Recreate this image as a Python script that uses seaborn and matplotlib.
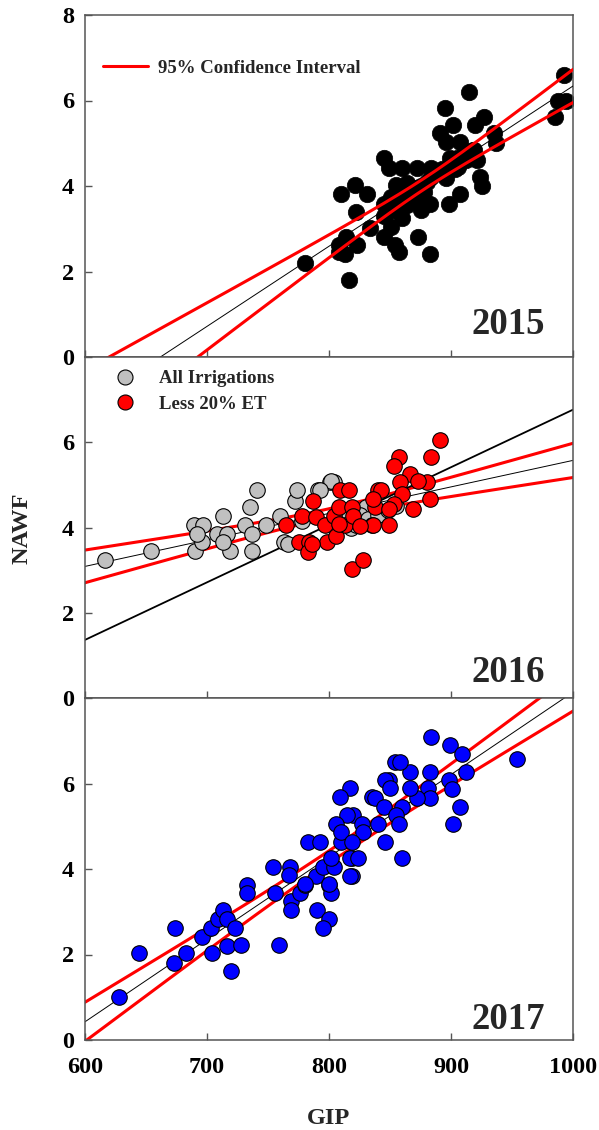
import numpy as np
import pandas as pd
import matplotlib
matplotlib.use("Agg")
import matplotlib.pyplot as plt
import seaborn as sns
from matplotlib.lines import Line2D

# ---------------- data ----------------
gip_2015 = [993, 988, 994, 985, 915, 895, 927, 920, 902, 935, 937, 891, 896, 907, 918,
            899, 909, 921, 845, 849, 860, 872, 884, 884, 896, 906, 924, 925, 821, 810,
            831, 822, 855, 864, 851, 861, 872, 883, 875, 845, 855, 860, 898, 907, 834,
            851, 845, 814, 808, 823, 813, 857, 854, 873, 883, 816, 780, 808,
            852, 858, 862, 866, 856, 864, 870, 875, 880, 888, 893, 900, 905, 910, 915,
            912, 903, 856, 848, 845, 860, 867, 878, 919]
nawf_2015 = [6.60, 6.00, 6.00, 5.62, 6.21, 5.82, 5.62, 5.43, 5.43, 5.23, 5.00, 5.23, 5.04, 5.04, 4.84,
             4.65, 4.69, 4.61, 4.65, 4.41, 4.41, 4.41, 4.41, 4.22, 4.18, 4.45, 4.22, 4.00, 4.02, 3.81,
             3.81, 3.40, 4.02, 4.06, 3.75, 3.79, 3.75, 3.59, 3.44, 3.59, 3.44, 3.24, 3.59, 3.81, 3.01,
             3.05, 2.81, 2.81, 2.62, 2.62, 2.42, 2.46, 2.62, 2.81, 2.42, 1.80, 2.21, 2.46,
             3.55, 3.70, 3.80, 3.90, 3.80, 3.55, 3.95, 4.00, 4.10, 4.30, 4.40, 4.55, 4.65, 4.70, 4.80,
             4.60, 4.40, 3.50, 3.40, 3.30, 3.90, 3.70, 3.85, 4.85]

gip_2016_all = [616, 654, 690, 689, 696, 697, 692, 708, 713, 716, 719, 713, 731, 735, 741,
                737, 737, 748, 760, 763, 772, 774, 791, 801, 804, 830, 802, 793, 766, 778,
                805, 812, 818, 825, 832, 840, 848, 855, 835, 822]
nawf_2016_all = [3.23, 3.44, 3.45, 4.05, 3.66, 4.05, 3.85, 3.85, 4.28, 3.85, 3.45, 3.66, 4.05, 4.48, 4.87,
                 3.85, 3.45, 4.05, 4.28, 3.66, 4.63, 4.87, 4.87, 5.06, 5.06, 4.48, 5.10, 4.87, 3.62, 4.16,
                 4.10, 4.20, 4.00, 4.30, 4.20, 4.30, 4.40, 4.50, 4.05, 4.05]

gip_2016_less = [765, 775, 778, 787, 789, 784, 783, 797, 798, 804, 806, 809, 816, 808, 819,
                 813, 820, 819, 828, 836, 838, 840, 891, 884, 857, 853, 866, 858, 880, 873,
                 883, 869, 860, 843, 853, 849, 836, 849, 825, 786, 808]
nawf_2016_less = [4.05, 3.66, 4.28, 4.63, 4.24, 3.66, 3.42, 4.05, 3.66, 4.28, 3.81, 4.87, 4.87, 4.48, 4.48,
                  4.05, 4.28, 3.03, 3.23, 4.05, 4.48, 4.87, 6.06, 5.65, 5.66, 5.45, 5.26, 5.06, 5.06, 5.10,
                  4.66, 4.44, 4.79, 4.87, 4.55, 4.44, 4.67, 4.05, 4.03, 3.62, 4.09]

gip_2017 = [628, 644, 674, 673, 683, 696, 704, 703, 709, 713, 716, 723, 716, 728, 720,
            733, 733, 754, 756, 759, 768, 767, 769, 769, 776, 780, 789, 790, 795, 800,
            800, 795, 802, 804, 802, 819, 819, 783, 793, 810,
            884, 899, 909, 954, 912, 898, 901, 907, 902, 883, 881, 883, 872, 866, 866,
            854, 858, 849, 846, 850, 817, 809, 835, 838, 845, 860, 855, 857, 820, 815,
            806, 810, 827, 840, 828, 846, 819, 860, 817, 824, 817, 780, 800]
nawf_2017 = [1.00, 2.03, 2.61, 1.81, 2.03, 2.42, 2.03, 2.61, 2.82, 3.04, 2.82, 2.61, 2.20, 2.22, 1.61,
             3.63, 3.43, 4.05, 3.43, 2.22, 4.05, 3.86, 3.24, 3.04, 3.43, 3.63, 3.84, 3.04, 4.05, 3.63,
             2.84, 2.61, 3.43, 4.05, 4.25, 3.84, 4.25, 4.64, 4.64, 4.64,
             7.08, 6.89, 6.69, 6.57, 6.28, 6.08, 5.86, 5.46, 5.05, 6.28, 5.89, 5.65, 5.65, 6.28, 5.89,
             6.51, 6.51, 6.08, 6.08, 5.89, 5.89, 5.68, 5.68, 5.65, 5.46, 5.46, 5.26, 5.05, 5.26, 5.26,
             5.05, 4.87, 5.05, 5.05, 4.86, 4.64, 4.64, 4.25, 4.25, 4.25, 3.84, 3.66, 3.66]

x_ticks = [600, 700, 800, 900, 1000]
y_ticks = [0, 2, 4, 6, 8]
years = ["2015", "2016", "2017"]

# ---------------- helpers ----------------
def fit_with_ci(x, y, grid, t=1.99):
    x = np.asarray(x, float)
    y = np.asarray(y, float)
    n = len(x)
    b, a = np.polyfit(x, y, 1)
    resid = y - (a + b * x)
    s = np.sqrt(np.sum(resid ** 2) / (n - 2))
    xm = x.mean()
    sxx = np.sum((x - xm) ** 2)
    yhat = a + b * grid
    se = s * np.sqrt(1.0 / n + (grid - xm) ** 2 / sxx)
    return yhat, yhat - t * se, yhat + t * se


sns.set_style("ticks")
plt.rcParams["font.family"] = ["Liberation Serif", "DejaVu Serif"]
plt.rcParams["font.weight"] = "bold"

fig = plt.figure(figsize=(5.99, 11.30), dpi=100)
W, H = 599.0, 1130.0
left, right = 85 / W, 573 / W
panels_px = [(15, 357), (357, 698), (698, 1040)]
axes = []
for top, bot in panels_px:
    ax = fig.add_axes([left, 1 - bot / H, right - left, (bot - top) / H])
    axes.append(ax)

grid = np.linspace(600, 1000, 200)
spine_col = "#555555"
tick_fs = 17.5

for i, ax in enumerate(axes):
    ax.set_xlim(600, 1000)
    ax.set_ylim(0, 8)
    ax.set_xticks(x_ticks)
    ax.set_yticks(y_ticks)
    for sp in ax.spines.values():
        sp.set_visible(True)
        sp.set_color(spine_col)
        sp.set_linewidth(1.1)
    ax.tick_params(direction="in", length=5, width=1, colors=spine_col,
                   labelcolor="black", labelsize=tick_fs)
    ax.tick_params(axis="y", pad=8)
    ax.tick_params(axis="x", pad=12)
    if i < 2:
        ax.set_xticklabels([])
    else:
        ax.set_xticklabels([str(v) for v in x_ticks], fontweight="bold")
    if i == 0:
        ax.set_yticklabels([str(v) for v in y_ticks], fontweight="bold")
    else:
        ax.set_yticklabels([str(v) for v in y_ticks[:-1]] + [""], fontweight="bold")

ms = 125

# ---------- 2015 ----------
ax = axes[0]
df15 = pd.DataFrame({"GIP": gip_2015, "NAWF": nawf_2015})
sns.scatterplot(data=df15, x="GIP", y="NAWF", ax=ax, color="black", s=140,
                edgecolor="black", linewidth=0.5, zorder=2)
yh, lo, hi = fit_with_ci(gip_2015, nawf_2015, grid)
ax.plot(grid, yh, color="black", lw=0.7, zorder=3)
ax.plot(grid, lo, color="#ff0000", lw=2.2, zorder=3)
ax.plot(grid, hi, color="#ff0000", lw=2.2, zorder=3)
ax.legend(handles=[Line2D([0], [0], color="#ff0000", lw=2.2)],
          labels=["95% Confidence Interval"], loc="upper left",
          bbox_to_anchor=((94 - 85) / 488, 0.8975), frameon=False, borderpad=0,
          handlelength=2.4, handletextpad=0.5, prop={"size": 13.5, "weight": "bold"})

# ---------- 2016 ----------
ax = axes[1]
df16a = pd.DataFrame({"GIP": gip_2016_all, "NAWF": nawf_2016_all})
df16l = pd.DataFrame({"GIP": gip_2016_less, "NAWF": nawf_2016_less})
all_x = gip_2016_all + gip_2016_less
all_y = nawf_2016_all + nawf_2016_less
yh, lo, hi = fit_with_ci(all_x, all_y, grid)
ax.plot(grid, yh, color="black", lw=0.7, zorder=1)
ax.plot(grid, lo, color="#ff0000", lw=2.2, zorder=1)
ax.plot(grid, hi, color="#ff0000", lw=2.2, zorder=1)
yl, _, _ = fit_with_ci(gip_2016_less, nawf_2016_less, grid)
ax.plot(grid, yl, color="black", lw=1.3, zorder=1)
sns.scatterplot(data=df16a, x="GIP", y="NAWF", ax=ax, color="#c0c0c0", s=ms,
                edgecolor="black", linewidth=0.8, zorder=2)
sns.scatterplot(data=df16l, x="GIP", y="NAWF", ax=ax, color="#ff0000", s=ms,
                edgecolor="black", linewidth=0.8, zorder=3)
h1 = Line2D([0], [0], ls="", marker="o", markersize=10.8, markerfacecolor="#c0c0c0",
            markeredgecolor="black", markeredgewidth=0.8)
h2 = Line2D([0], [0], ls="", marker="o", markersize=10.8, markerfacecolor="#ff0000",
            markeredgecolor="black", markeredgewidth=0.8)
ax.legend(handles=[h1, h2], labels=["All Irrigations", "Less 20% ET"], loc="upper left",
          bbox_to_anchor=((106.6 - 85) / 488, 0.9895), frameon=False, borderpad=0,
          handlelength=1.0, handletextpad=1.3, labelspacing=0.45,
          prop={"size": 13.5, "weight": "bold"})

# ---------- 2017 ----------
ax = axes[2]
df17 = pd.DataFrame({"GIP": gip_2017, "NAWF": nawf_2017})
yh, lo, hi = fit_with_ci(gip_2017, nawf_2017, grid)
ax.plot(grid, yh, color="black", lw=0.7, zorder=1)
ax.plot(grid, lo, color="#ff0000", lw=2.2, zorder=1)
ax.plot(grid, hi, color="#ff0000", lw=2.2, zorder=1)
sns.scatterplot(data=df17, x="GIP", y="NAWF", ax=ax, color="#0000ff", s=ms,
                edgecolor="black", linewidth=0.8, zorder=2)

for ax in axes:
    ax.set_xlabel("")
    ax.set_ylabel("")

# year labels
year_pos = [0.068, 0.048, 0.032]
for ax, yr, yp in zip(axes, years, year_pos):
    ax.text(0.943, yp, yr, transform=ax.transAxes, ha="right", va="baseline",
            fontsize=26.5, fontweight="bold")

fig.text(22 / W, 1 - 528 / H, "NAWF", rotation=90, ha="center", va="center",
         fontsize=17.5, fontweight="bold")
fig.text(329 / W, 1 - 1119 / H, "GIP", ha="center", va="center",
         fontsize=17.5, fontweight="bold")

fig.savefig("out.png", dpi=100)
